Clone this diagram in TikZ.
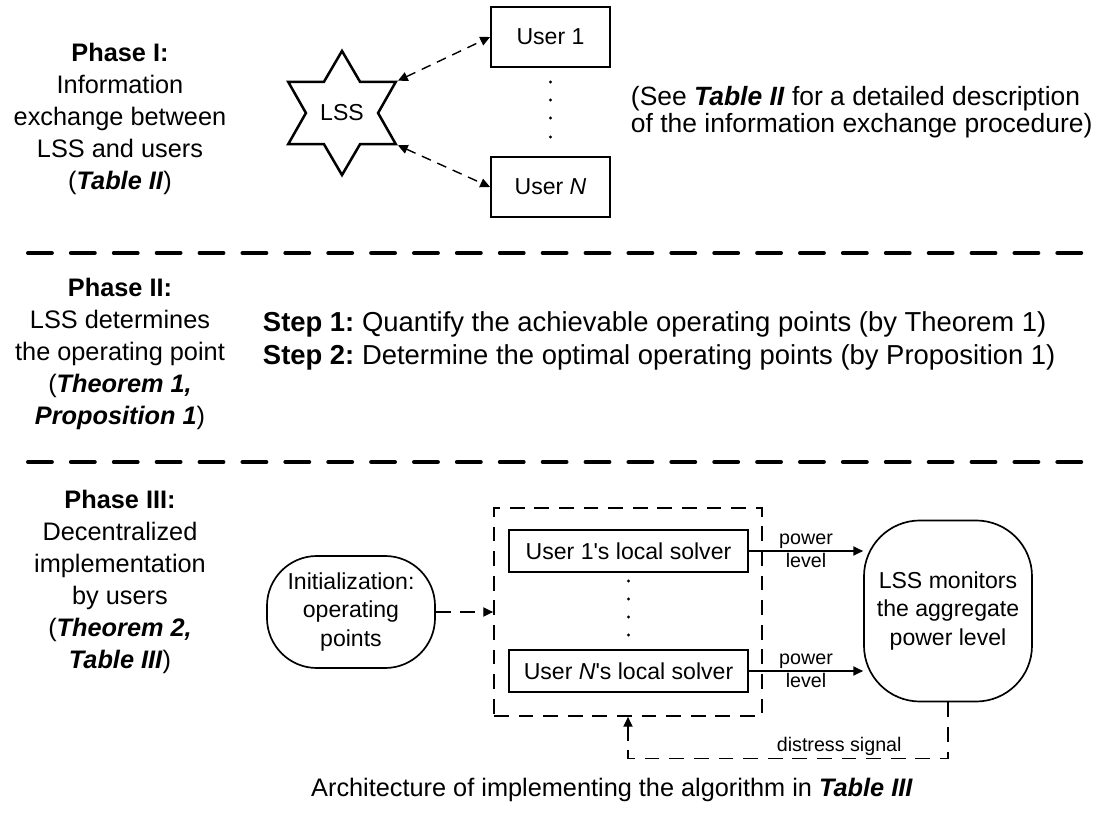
\documentclass[tikz,border=0pt]{standalone}
\usepackage{fontspec}
\setmainfont{Liberation Sans}
\usepackage{tikz}
\usetikzlibrary{shapes,arrows.meta,positioning}
\newcommand{\phasefont}{\fontsize{18}{22.8}\selectfont}
\newcommand{\boxfont}{\fontsize{16.4}{20}\selectfont}
\newcommand{\labelfont}{\fontsize{14}{16}\selectfont}
\newcommand{\tabref}[1]{\textbf{\textit{#1}}}
\frenchspacing

\begin{document}
\begin{tikzpicture}[x=0.025cm, y=-0.025cm,
    userbox/.style={draw, line width=1.3pt, minimum width=2.975cm, minimum height=1.5cm, font=\boxfont},
    solverbox/.style={draw, line width=1.3pt, minimum width=5.975cm, minimum height=1.05cm, font=\boxfont},
    softbox/.style={draw, line width=1.2pt, align=center, font=\boxfont},
    phase/.style={align=center, font=\phasefont},
    link/.style={line width=1pt, dash pattern=on 7pt off 5pt, {Triangle[length=7pt,width=6.5pt]}-{Triangle[length=7pt,width=6.5pt]}},
    flow/.style={line width=1pt, -{Triangle[length=7pt,width=6.5pt]}},
    sep/.style={line width=2.8pt, line cap=round, dash pattern=on 17pt off 13.5pt}]
    \useasboundingbox (0,0) rectangle (1100,813);

    % Phase I: information exchange
    \node[phase] (phase1) at (120,119) {\textbf{Phase I:}\\Information\\exchange between\\LSS and users\\(\tabref{Table II})};
    \node[draw, star, star points=6, star point ratio=1.72, minimum size=3.1cm, inner sep=0pt, line width=1.8pt, font=\boxfont] (lss) at (342,113) {LSS};
    \node[userbox] (user1) at (550.5,37) {User 1};
    \node[userbox] (userN) at (550.5,187) {User \textit{N}};
    \foreach \y in {82,100,118,137}
        \fill (550.5,\y) circle (1.1pt);
    \draw[link] (lss.30) -- (user1.west);
    \draw[link] (lss.-30) -- (userN.west);
    \node[anchor=west, align=left, font=\fontsize{18.8}{19.5}\selectfont] (note) at (626,112) {(See \tabref{Table II} for a detailed description\\of the information exchange procedure)};

    \draw[sep] (28,253) -- (1088,253);

    % Phase II: operating point
    \node[phase] (phase2) at (120,354) {\textbf{Phase II:}\\LSS determines\\the operating point\\(\tabref{Theorem 1,}\\\tabref{Proposition 1})};
    \node[anchor=west, align=left, font=\fontsize{19.5}{24}\selectfont] (steps) at (258,341) {\textbf{Step 1:} Quantify the achievable operating points (by Theorem 1)\\\textbf{Step 2:} Determine the optimal operating points (by Proposition 1)};

    \draw[sep] (28,462) -- (1088,462);

    % Phase III: decentralized implementation
    \node[phase] (phase3) at (120,582) {\textbf{Phase III:}\\Decentralized\\implementation\\by users\\(\tabref{Theorem 2,}\\\tabref{Table III})};
    \node[softbox, rounded corners=1.25cm, minimum width=4.2cm, minimum height=2.8cm] (init) at (351,612) {Initialization:\\operating\\points};
    \node[draw, line width=1.2pt, dash pattern=on 10.5pt off 7pt, minimum width=6.7cm, minimum height=5.2cm] (solvers) at (628,612) {};
    \node[solverbox] (solver1) at (628.5,551) {User 1\textquotesingle s local solver};
    \node[solverbox] (solverN) at (628.5,671) {User \textit{N}\textquotesingle s local solver};
    \foreach \y in {581,599,617,635}
        \fill (628.5,\y) circle (1.1pt);
    \node[softbox, rounded corners=1.4cm, minimum width=4.2cm, minimum height=4.525cm] (monitor) at (948,611) {LSS monitors\\the aggregate\\power level};

    \draw[flow, dash pattern=on 10.5pt off 7pt] (init) -- (solvers);
    \draw[flow] (solver1.east) -- (solver1.east -| monitor.west)
        node[midway, above, inner sep=1pt, font=\labelfont] {power}
        node[midway, below, inner sep=1pt, font=\labelfont] {level};
    \draw[flow] (solverN.east) -- (solverN.east -| monitor.west)
        node[midway, above, inner sep=1pt, font=\labelfont] {power}
        node[midway, below, inner sep=1pt, font=\labelfont] {level};
    \draw[flow, dash pattern=on 10.5pt off 7pt] (monitor.south) -- ++(0,56) -| (solvers.south)
        node[pos=0.17, above, inner sep=1.5pt, font=\labelfont] {distress signal};

    \node[font=\phasefont] (caption) at (612,790) {Architecture of implementing the algorithm in \tabref{Table III}};
\end{tikzpicture}
\end{document}
